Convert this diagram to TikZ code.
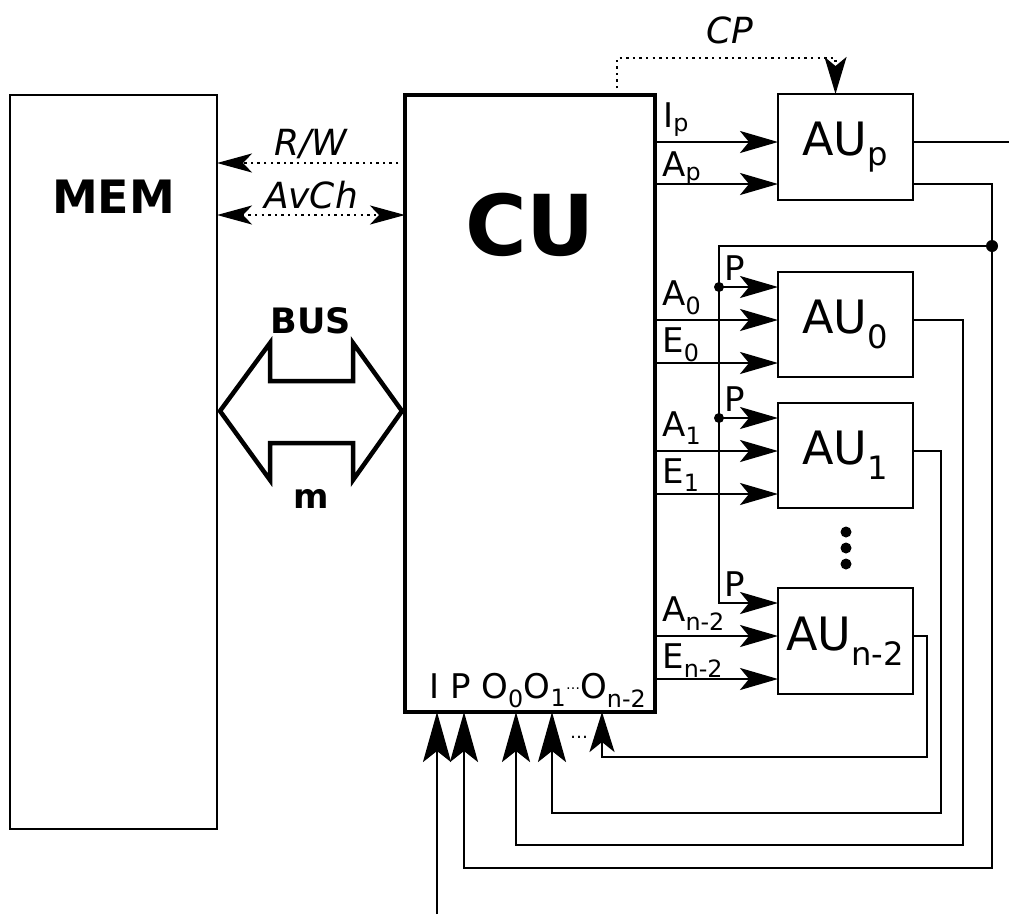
\documentclass[tikz,border=0pt]{standalone}
\usepackage{fontspec}
\setmainfont{DejaVu Sans}
\usetikzlibrary{arrows.meta,positioning,calc}
\definecolor{ink}{HTML}{000000}
\tikzset{
  every node/.style={text=ink},
  membox/.style={draw=ink, line width=2.6pt, minimum width=207pt, minimum height=734pt,
                 inner sep=0pt, outer sep=0pt},
  cubox/.style={draw=ink, line width=4pt, minimum width=250pt, minimum height=617pt,
                inner sep=0pt, outer sep=0pt},
  unitbox/.style={draw=ink, line width=2.6pt, minimum width=135pt, minimum height=105pt,
                  inner sep=0pt, outer sep=0pt, font=\fontsize{46}{52}\selectfont},
  biglbl/.style={font=\fontsize{#1}{#1}\selectfont\bfseries, inner sep=0pt},
  lbl/.style={font=\fontsize{34}{40}\selectfont, inner sep=0pt},
  sig/.style={font=\fontsize{36}{42}\selectfont\itshape, inner sep=0pt},
  wire/.style={draw=ink, line width=2.6pt},
  arr/.style={wire, -{Stealth[length=38pt, width=22pt, inset=9pt]}},
  uparr/.style={wire, -{Stealth[length=50pt, width=28pt, inset=11pt]}},
  smarr/.style={wire, -{Stealth[length=40pt, width=25pt, inset=10pt]}},
  dotwire/.style={draw=ink, line width=2.6pt, dash pattern=on 2.4pt off 4.2pt},
  dotarr/.style={dotwire, -{Stealth[length=35pt, width=19pt, inset=9pt]}},
  dotdarr/.style={dotwire, {Stealth[length=35pt, width=19pt, inset=9pt]}-{Stealth[length=35pt, width=19pt, inset=9pt]}},
  busarr/.style={draw=ink, line width=4.5pt},
  jdot/.style={fill=ink},
}

\begin{document}
\begin{tikzpicture}[x=1pt, y=-1pt]
\useasboundingbox (0,0) rectangle (1009,914);

% memory and control unit
\node[membox] (mem) at (113.5,462) {};
\node[biglbl=46, anchor=base] (memlbl) at (113.5,213) {MEM};
\node[cubox] (cu) at (530,403.5) {};
\node[biglbl=84, anchor=base] (culbl) at (530,255) {CU};
\node[lbl, anchor=base west] (cuins) at ($(cu.south west)+(24,-14)$)
  {I P O\textsubscript{0}O\textsubscript{1}\raisebox{0.25em}{\fontsize{14}{14}\selectfont …}O\textsubscript{n-2}};

% arithmetic units
\node[unitbox, minimum height=106pt] (aup) at (845.5,147) {AU\textsubscript{p}};
\node[unitbox, below=72pt of aup] (au0) {AU\textsubscript{0}};
\node[unitbox, below=26pt of au0] (au1) {AU\textsubscript{1}};
\node[unitbox, minimum height=106pt, below=80pt of au1] (aun) {AU\textsubscript{n-2}};
\foreach \y in {532,548,564} \fill[jdot] (846,\y) circle (5.5pt);

\path (aup.north west) ++(0,48) coordinate (aup-i) ++(0,42) coordinate (aup-a);
\foreach \u in {au0,au1,aun}{
  \path (\u.north west) ++(0,15) coordinate (\u-p) ++(0,33) coordinate (\u-a) ++(0,43) coordinate (\u-e);
}
\path (cu.south west) ++(32,0) coordinate (inI) ++(27,0) coordinate (inP)
  ++(52,0) coordinate (in0) ++(36,0) coordinate (in1) ++(50,0) coordinate (inn);
\coordinate (iin) at (437,914);
\coordinate (rim) at (1009,0);
\coordinate (pj) at (992,246);
\coordinate (pbus) at (719,246);
\coordinate (lpp) at (992,868);
\coordinate (lp0) at (963,845);
\coordinate (lp1) at (941,813);
\coordinate (lpn) at (927,757);

% memory side
\draw[dotarr] ($(cu.north west)+(0,68)$) -- node[sig, anchor=base, yshift=8pt] (rwlbl) {R/W} ($(mem.north east)+(0,68)$);
\draw[dotdarr] ($(mem.north east)+(0,120)$) -- node[sig, anchor=base, yshift=7pt] (avlbl) {AvCh} ($(cu.north west)+(0,120)$);
\draw[busarr] (220,411) coordinate (busl) -- ++(50,-68) -- ++(0,38) -- ++(83,0) -- ++(0,-38)
  -- ++(49,68) -- ++(-49,69) -- ++(0,-37) -- ++(-83,0) -- ++(0,37) -- cycle;
\node[biglbl=35, anchor=base] (buslbl) at (311,333) {BUS};
\node[biglbl=34, anchor=base] (mlbl) at (311,508) {m};

% control to units
\draw[dotwire, -{Stealth[length=37pt, width=22pt, inset=9pt]}] ($(cu.north west)+(212,0)$) -- ++(0,-37) -| ($(aup.north)+(-10,0)$);
\node[sig, anchor=base] (cplbl) at (730,43) {CP};
\draw[arr] (cu.east |- aup-i) -- node[lbl, pos=0, anchor=base west, xshift=7pt, yshift=15pt] (iplbl) {I\textsubscript{p}} (aup-i);
\draw[arr] (cu.east |- aup-a) -- node[lbl, pos=0, anchor=base west, xshift=6pt, yshift=8pt] (aplbl) {A\textsubscript{p}} (aup-a);
\foreach \u/\s in {au0/0, au1/1, aun/n-2}{
  \draw[arr] (cu.east |- \u-a) -- node[lbl, pos=0, anchor=base west, xshift=6pt, yshift=15pt] (\u-albl) {A\textsubscript{\s}} (\u-a);
  \draw[arr] (cu.east |- \u-e) -- node[lbl, pos=0, anchor=base west, xshift=6pt, yshift=11pt] (\u-elbl) {E\textsubscript{\s}} (\u-e);
}

% P bus
\draw[arr] (pj) -- (pbus) -- (pbus |- aun-p) -- node[lbl, pos=0, anchor=base west, xshift=4pt, yshift=7pt] (aun-plbl) {P} (aun-p);
\foreach \u in {au0,au1}{
  \draw[arr] (pbus |- \u-p) -- node[lbl, pos=0, anchor=base west, xshift=4pt, yshift=7pt] (\u-plbl) {P} (\u-p);
  \fill[jdot] (pbus |- \u-p) circle (5pt);
}
\fill[jdot] (pj) circle (6pt);

% feedback
\draw[wire] (aup.east |- aup-i) -- (rim |- aup-i);
\draw[uparr] (aup.east |- aup-a) -| (lpp) -| (inP);
\draw[uparr] (au0.east |- au0-a) -| (lp0) -| (in0);
\draw[uparr] (au1.east |- au1-a) -| (lp1) -| (in1);
\draw[smarr] (aun.east |- aun-a) -| (lpn) -| (inn);
\draw[uparr] (iin) -- (inI);
\node[font=\fontsize{18}{18}\selectfont, inner sep=0pt] (odots) at (579,737) {…};

\end{tikzpicture}
\end{document}
